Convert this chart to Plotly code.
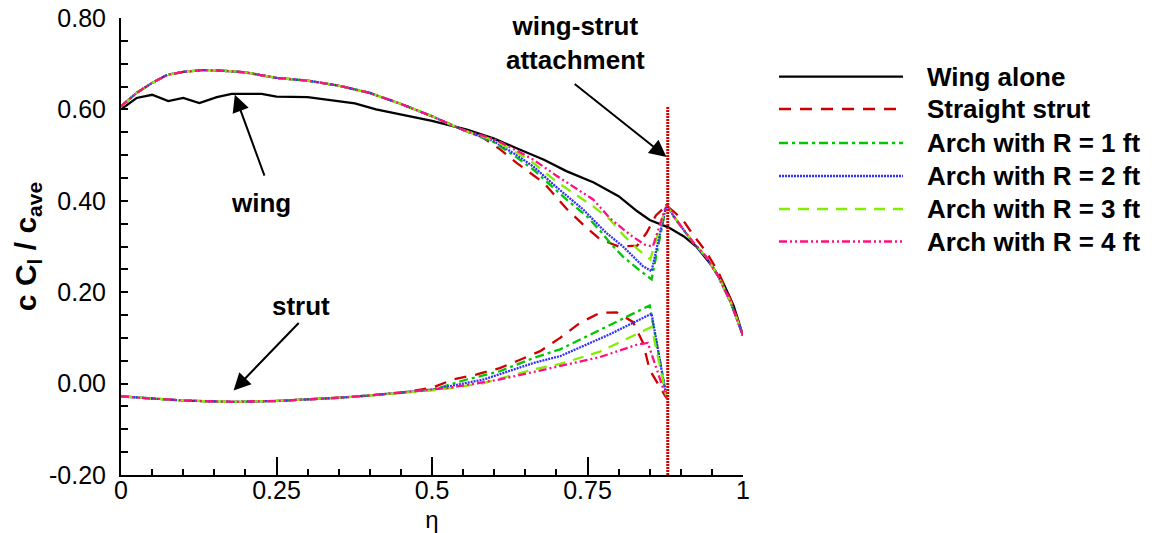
import plotly.graph_objects as go

# ---------------- data ----------------
SERIES_NAMES = ["Wing alone", "Straight strut", "Arch with R = 1 ft",
                "Arch with R = 2 ft", "Arch with R = 3 ft", "Arch with R = 4 ft"]

# Wing alone (wing only)
wing_alone_eta = [0, 0.025, 0.05, 0.076, 0.10, 0.126, 0.154, 0.178, 0.226, 0.25, 0.30,
                  0.376, 0.41, 0.46, 0.50, 0.556, 0.60, 0.636, 0.68, 0.716, 0.76, 0.80,
                  0.83, 0.85, 0.88, 0.905, 0.925, 0.95, 0.97, 0.985, 1.0]
wing_alone_val = [0.600, 0.625, 0.632, 0.618, 0.625, 0.614, 0.627, 0.634, 0.634, 0.628, 0.627,
                  0.613, 0.600, 0.586, 0.575, 0.556, 0.536, 0.515, 0.490, 0.465, 0.440, 0.410,
                  0.377, 0.358, 0.342, 0.322, 0.300, 0.258, 0.215, 0.170, 0.105]

# inboard wing loading shared by all strut configurations
wing_inboard_eta = [0, 0.025, 0.05, 0.075, 0.10, 0.13, 0.16, 0.20, 0.25, 0.30, 0.35, 0.40, 0.45, 0.50, 0.55]
wing_inboard_val = [0.607, 0.636, 0.658, 0.676, 0.682, 0.686, 0.685, 0.681, 0.669, 0.663, 0.652,
                    0.636, 0.612, 0.585, 0.555]

# outboard wing loading for each configuration
straight_wing_eta = [0.58, 0.61, 0.636, 0.68, 0.716, 0.743, 0.77, 0.80, 0.83, 0.845, 0.86, 0.877,
                     0.89, 0.905, 0.92, 0.94, 0.96, 0.98, 1.0]
straight_wing_val = [0.540, 0.512, 0.483, 0.439, 0.383, 0.348, 0.316, 0.300, 0.302, 0.330, 0.368, 0.390,
                     0.375, 0.355, 0.325, 0.290, 0.245, 0.185, 0.105]

r1_wing_eta = [0.60, 0.636, 0.663, 0.69, 0.716, 0.749, 0.77, 0.79, 0.807, 0.83, 0.853, 0.877,
               0.89, 0.905, 0.92, 0.94, 0.96, 0.98, 1.0]
r1_wing_val = [0.528, 0.495, 0.468, 0.435, 0.403, 0.366, 0.335, 0.302, 0.278, 0.252, 0.228, 0.392,
               0.362, 0.335, 0.308, 0.278, 0.235, 0.178, 0.105]

r2_wing_eta = [0.60, 0.636, 0.663, 0.70, 0.743, 0.759, 0.78, 0.807, 0.839, 0.853, 0.877,
               0.89, 0.905, 0.92, 0.94, 0.96, 0.98, 1.0]
r2_wing_val = [0.530, 0.500, 0.475, 0.430, 0.381, 0.359, 0.330, 0.300, 0.257, 0.246, 0.392,
               0.363, 0.335, 0.308, 0.278, 0.235, 0.178, 0.105]

r3_wing_eta = [0.60, 0.636, 0.663, 0.70, 0.759, 0.786, 0.807, 0.83, 0.851, 0.877,
               0.89, 0.905, 0.92, 0.94, 0.96, 0.98, 1.0]
r3_wing_val = [0.532, 0.505, 0.483, 0.442, 0.388, 0.359, 0.326, 0.295, 0.272, 0.392,
               0.364, 0.336, 0.309, 0.279, 0.236, 0.179, 0.105]

r4_wing_eta = [0.60, 0.636, 0.663, 0.70, 0.759, 0.786, 0.818, 0.842, 0.855, 0.877,
               0.89, 0.905, 0.92, 0.94, 0.96, 0.98, 1.0]
r4_wing_val = [0.535, 0.510, 0.490, 0.455, 0.403, 0.362, 0.326, 0.304, 0.300, 0.392,
               0.364, 0.336, 0.309, 0.279, 0.236, 0.179, 0.105]

# strut loading, inboard part shared by all configurations
strut_inboard_eta = [0, 0.05, 0.10, 0.15, 0.18, 0.25, 0.30, 0.35, 0.40, 0.45]
strut_inboard_val = [-0.028, -0.033, -0.037, -0.039, -0.040, -0.038, -0.035, -0.031, -0.026, -0.020]

straight_strut_eta = [0.50, 0.534, 0.572, 0.609, 0.636, 0.674, 0.706, 0.738, 0.77, 0.797, 0.823, 0.839, 0.85, 0.877]
straight_strut_val = [-0.009, 0.009, 0.020, 0.034, 0.049, 0.071, 0.100, 0.133, 0.155, 0.156, 0.135, 0.090, 0.030, -0.032]

r1_strut_eta = [0.502, 0.556, 0.609, 0.663, 0.706, 0.759, 0.813, 0.85, 0.877]
r1_strut_val = [-0.013, 0.009, 0.027, 0.056, 0.075, 0.110, 0.147, 0.171, -0.028]

r2_strut_eta = [0.502, 0.583, 0.663, 0.706, 0.786, 0.853, 0.877]
r2_strut_val = [-0.013, 0.009, 0.045, 0.060, 0.108, 0.153, -0.030]

r3_strut_eta = [0.51, 0.583, 0.663, 0.706, 0.77, 0.853, 0.877]
r3_strut_val = [-0.014, 0.001, 0.031, 0.043, 0.070, 0.124, -0.030]

r4_strut_eta = [0.529, 0.609, 0.69, 0.77, 0.829, 0.847, 0.877]
r4_strut_val = [-0.009, 0.009, 0.034, 0.058, 0.085, 0.089, -0.032]

attach_eta = 0.879
attach_top = 0.605

x_tick_vals = [0, 0.25, 0.5, 0.75, 1]
x_tick_text = ["0", "0.25", "0.5", "0.75", "1"]
y_tick_vals = [-0.2, 0.0, 0.2, 0.4, 0.6, 0.8]
y_tick_text = ["-0.20", "0.00", "0.20", "0.40", "0.60", "0.80"]

# ---------------- styles ----------------
STYLES = [
    dict(color="#000000", dash="solid", width=2.3),
    dict(color="#d00000", dash="12px,9px", width=2.3),
    dict(color="#00c800", dash="9px,4px,3px,4px", width=2.3),
    dict(color="#3030ff", dash="2px,1px", width=2.3),
    dict(color="#80f000", dash="11px,8px", width=2.3),
    dict(color="#ff1080", dash="8px,3px,2px,3px,2px,3px", width=2.3),
]

FONT = "Liberation Sans, Arial, sans-serif"

fig = go.Figure()

# wing alone
fig.add_trace(go.Scatter(x=wing_alone_eta, y=wing_alone_val, mode="lines",
                         name=SERIES_NAMES[0], line=STYLES[0], showlegend=False))

configs = [
    (straight_wing_eta, straight_wing_val, straight_strut_eta, straight_strut_val),
    (r1_wing_eta, r1_wing_val, r1_strut_eta, r1_strut_val),
    (r2_wing_eta, r2_wing_val, r2_strut_eta, r2_strut_val),
    (r3_wing_eta, r3_wing_val, r3_strut_eta, r3_strut_val),
    (r4_wing_eta, r4_wing_val, r4_strut_eta, r4_strut_val),
]
for i, (we, wv, se, sv) in enumerate(configs, start=1):
    xs = wing_inboard_eta + we + [None] + strut_inboard_eta + se
    ys = wing_inboard_val + wv + [None] + strut_inboard_val + sv
    fig.add_trace(go.Scatter(x=xs, y=ys, mode="lines", name=SERIES_NAMES[i],
                             line=STYLES[i], showlegend=False, connectgaps=False))

# wing-strut attachment line
fig.add_trace(go.Scatter(x=[attach_eta, attach_eta], y=[-0.2, attach_top], mode="lines",
                         name="wing-strut attachment",
                         line=dict(color="#d00000", dash="2px,1px", width=3), showlegend=False))

# ---------------- legend drawn as shapes + text ----------------
PL, PR, PT, PB = 121, 743, 18, 475


def px2paper_x(px):
    return (px - PL) / (PR - PL)


def px2paper_y(py):
    return (PB - py) / (PB - PT)


legend_rows = [76.7, 109, 143, 176, 209, 241.5]
for name, st, ry in zip(SERIES_NAMES, STYLES, legend_rows):
    fig.add_shape(type="line", xref="paper", yref="paper",
                  x0=px2paper_x(779), x1=px2paper_x(903), y0=px2paper_y(ry), y1=px2paper_y(ry),
                  line=dict(color=st["color"], dash=st["dash"], width=st["width"]))
    fig.add_annotation(xref="paper", yref="paper", x=px2paper_x(925), y=px2paper_y(ry),
                       text="<b>%s</b>" % name, showarrow=False, xanchor="left", yanchor="middle",
                       font=dict(family=FONT, size=26, color="black"))

# ---------------- callouts ----------------
ANN_FONT = dict(family=FONT, size=26, color="black")
ARROW = dict(showarrow=True, arrowhead=2, arrowsize=1.7, arrowwidth=2, arrowcolor="black",
             xref="x", yref="y", axref="x", ayref="y", text="")
fig.add_annotation(x=0.183, y=0.632, ax=0.2315, ay=0.452, **ARROW)
fig.add_annotation(x=0.225, y=0.395, xref="x", yref="y", text="<b>wing</b>", showarrow=False,
                   font=ANN_FONT)
fig.add_annotation(x=0.181, y=-0.015, ax=0.288, ay=0.136, **ARROW)
fig.add_annotation(x=0.29, y=0.17, xref="x", yref="y", text="<b>strut</b>", showarrow=False,
                   font=ANN_FONT)
fig.add_annotation(x=0.877, y=0.496, ax=0.727, ay=0.658, **ARROW)
fig.add_annotation(x=0.73, y=0.745, xref="x", yref="y", text="<b>wing-strut<br>attachment</b>",
                   showarrow=False, font=ANN_FONT, align="center")

# ---------------- axes ----------------
fig.update_xaxes(range=[0, 1], showline=True, linecolor="black", linewidth=2, mirror=False,
                 showgrid=False, zeroline=False, ticks="inside", ticklen=18, tickwidth=2,
                 tickcolor="black", tickvals=x_tick_vals, ticktext=x_tick_text, automargin=False,
                 minor=dict(ticks="inside", dtick=0.05, ticklen=6, tickwidth=1.5, tickcolor="black"),
                 tickfont=dict(family=FONT, size=25, color="black"), ticklabelstandoff=-8,
                 title=dict(text="η", font=dict(family=FONT, size=24, color="black"), standoff=10))
fig.update_yaxes(range=[-0.2, 0.8], showline=True, linecolor="black", linewidth=2, mirror=False,
                 showgrid=False, zeroline=False, ticks="inside", ticklen=7, tickwidth=2,
                 tickcolor="black", tickvals=y_tick_vals, ticktext=y_tick_text, automargin=False,
                 minor=dict(ticks="inside", dtick=0.05, ticklen=7, tickwidth=1.5, tickcolor="black"),
                 tickfont=dict(family=FONT, size=25, color="black"), ticklabelstandoff=8,
                 title=dict(text="<b>c C<sub>l</sub> / c<sub>ave</sub></b>",
                            font=dict(family=FONT, size=30, color="black"), standoff=4))

fig.update_layout(width=1152, height=533, margin=dict(l=PL, r=1152 - PR, t=PT, b=533 - PB),
                  paper_bgcolor="white", plot_bgcolor="white", showlegend=False)

fig.write_html("out.html")
